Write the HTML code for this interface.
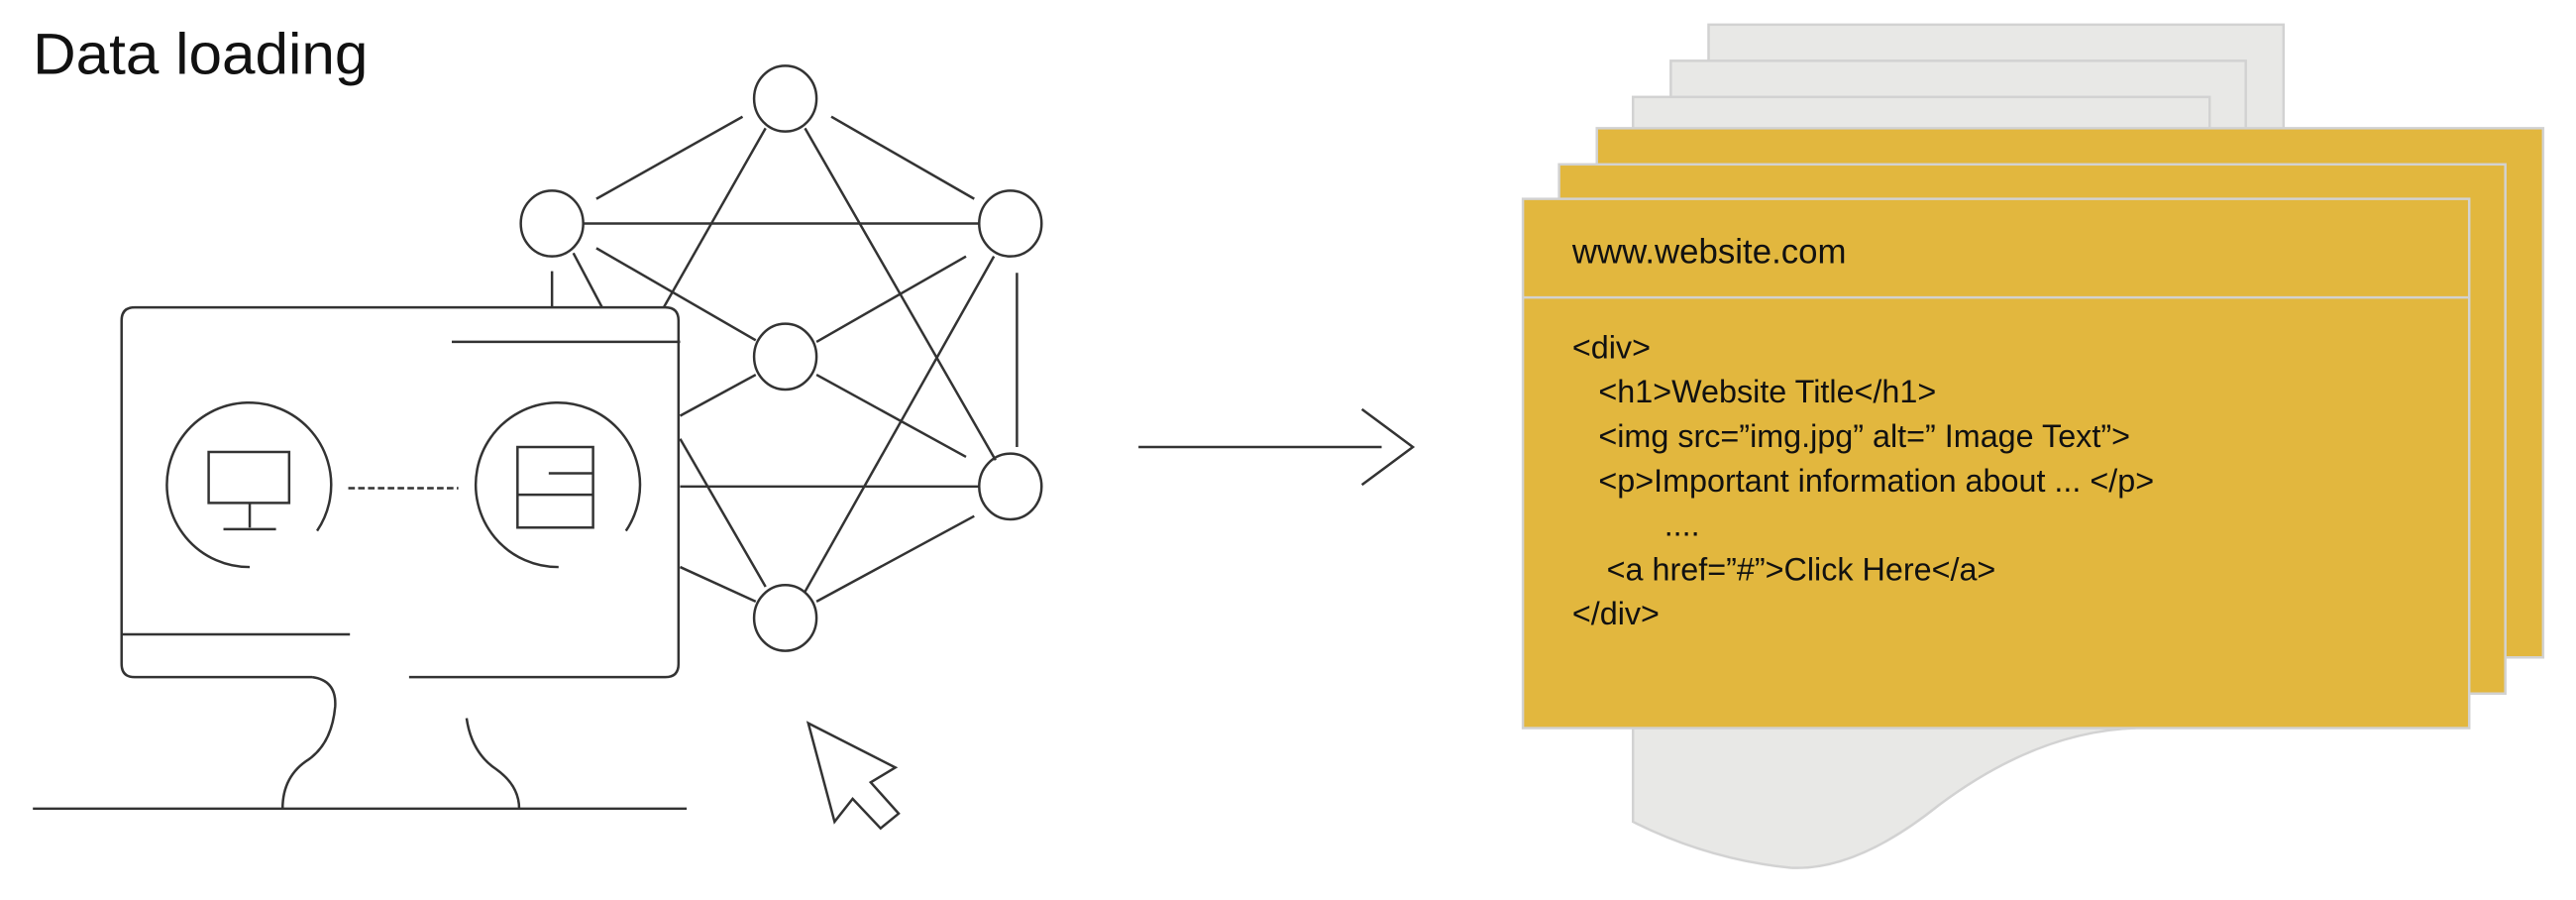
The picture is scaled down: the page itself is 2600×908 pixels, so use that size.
<!DOCTYPE html>
<html><head><meta charset="utf-8"><style>html,body{margin:0;padding:0;background:#fff}svg{display:block}</style></head>
<body>
<svg width="2600" height="908" viewBox="0 0 1568 547.6" xmlns="http://www.w3.org/2000/svg">
<text x="20" y="45" font-family="Liberation Sans, sans-serif" font-size="35" fill="#111" textLength="204" lengthAdjust="spacingAndGlyphs">Data loading</text>
<g fill="none" stroke="#333" stroke-width="1.5">
<line x1="363" y1="121" x2="452" y2="71"/>
<line x1="506" y1="71" x2="593" y2="121"/>
<line x1="355" y1="136" x2="596" y2="136"/>
<line x1="490" y1="78" x2="606" y2="280"/>
<line x1="466" y1="78" x2="404" y2="187"/>
<line x1="363" y1="151" x2="460" y2="207"/>
<line x1="588" y1="156" x2="497" y2="208"/>
<line x1="349" y1="154" x2="367" y2="188"/>
<line x1="336" y1="165" x2="336" y2="187"/>
<line x1="619" y1="166" x2="619" y2="272"/>
<line x1="605" y1="156" x2="490" y2="360"/>
<line x1="497" y1="228" x2="588" y2="278"/>
<line x1="460" y1="228" x2="414" y2="253"/>
<line x1="414" y1="296" x2="596" y2="296"/>
<line x1="414" y1="267" x2="466" y2="357"/>
<line x1="414" y1="345" x2="460" y2="366"/>
<line x1="497" y1="366" x2="593" y2="314"/>
<ellipse cx="478" cy="60" rx="19" ry="20"/>
<ellipse cx="336" cy="136" rx="19" ry="20"/>
<ellipse cx="615" cy="136" rx="19" ry="20"/>
<ellipse cx="478" cy="217" rx="19" ry="20"/>
<ellipse cx="615" cy="296" rx="19" ry="20"/>
<ellipse cx="478" cy="376" rx="19" ry="20"/>
<path d="M190,412 H82 Q74,412 74,404 V195 Q74,187 82,187 H405 Q413,187 413,195 V404 Q413,412 405,412 H249" fill="#fff"/>
<line x1="275" y1="208" x2="414" y2="208"/>
<line x1="74" y1="386" x2="213" y2="386"/>
<path d="M190,412 Q205,414 204,430 Q202,452 188,462 Q172,472 172,492"/>
<path d="M284,437 Q287,458 302,468 Q316,478 316,492"/>
<line x1="20" y1="492" x2="418" y2="492"/>
<path d="M152,345 A50,50 0 1 1 193,323"/>
<rect x="127" y="275" width="49" height="31"/>
<line x1="152" y1="306" x2="152" y2="321"/>
<line x1="136" y1="322" x2="168" y2="322"/>
<line x1="212" y1="297" x2="279" y2="297" stroke-dasharray="4,2"/>
<path d="M340,345 A50,50 0 1 1 381,323"/>
<rect x="315" y="272" width="46" height="49"/>
<line x1="315" y1="301" x2="361" y2="301"/>
<line x1="334" y1="288" x2="361" y2="288"/>
<path d="M492,440 L545,467 L530,476 L547,495 L536,504 L519,486 L508,500 Z"/>
<line x1="693" y1="272" x2="841" y2="272"/>
<path d="M829,249 L860,272 L829,295"/>
</g>
<g stroke="#d2d2d2" stroke-width="1.5">
<path d="M994,443 V500 Q1040,523 1090,528 Q1130,530 1180,490 Q1240,445 1300,443 Z" fill="#e8e8e6"/>
<rect x="1040" y="15" width="350" height="120" fill="#e8e8e6"/>
<rect x="1017" y="37" width="350" height="120" fill="#e8e8e6"/>
<rect x="994" y="59" width="351" height="120" fill="#e8e8e6"/>
<rect x="972" y="78" width="576" height="322" fill="#e2b73e"/>
<rect x="949" y="100" width="576" height="322" fill="#e2b73e"/>
<rect x="927" y="121" width="576" height="322" fill="#e2b73e"/>
<line x1="927" y1="181" x2="1503" y2="181"/>
</g>
<g font-family="Liberation Sans, sans-serif" font-size="19.5" fill="#111">
<text x="957" y="160" font-size="21">www.website.com</text>
<text x="957" y="218">&lt;div&gt;</text>
<text x="973" y="245">&lt;h1&gt;Website Title&lt;/h1&gt;</text>
<text x="973" y="272">&lt;img src=”img.jpg” alt=” Image Text”&gt;</text>
<text x="973" y="299">&lt;p&gt;Important information about ... &lt;/p&gt;</text>
<text x="1013" y="326">....</text>
<text x="978" y="353">&lt;a href=”#”&gt;Click Here&lt;/a&gt;</text>
<text x="957" y="380">&lt;/div&gt;</text>
</g>
</svg>
</body></html>
